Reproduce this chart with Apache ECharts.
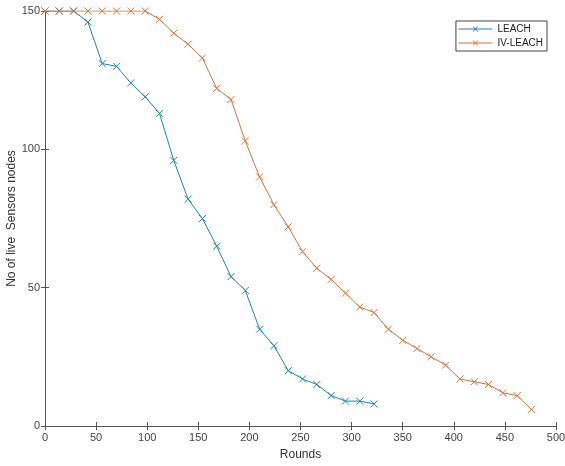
<!DOCTYPE html>
<html><head><meta charset="utf-8">
<script src="https://cdn.jsdelivr.net/npm/echarts@6/dist/echarts.min.js"></script>
<style>html,body{margin:0;padding:0;background:#fff}#c{width:565px;height:466px}</style>
</head><body><div id="c"></div>
<script>
const leachRounds = [0,14,28,42,56,70,84,98,112,126,140,154,168,182,196,210,224,238,252,266,280,294,308,322];
const leachAlive  = [150,150,150,146,131,130,124,119,113,96,82,75,65,54,49,35,29,20,17,15,11,9,9,8];
const ivRounds = [0,14,28,42,56,70,84,98,112,126,140,154,168,182,196,210,224,238,252,266,280,294,308,322,336,350,364,378,392,406,420,434,448,462,476];
const ivAlive  = [150,150,150,150,150,150,150,150,147,142,138,133,122,118,103,90,80,72,63,57,53,48,43,41,35,31,28,25,22,17,16,15,12,11,6];
const xTicks = [0,50,100,150,200,250,300,350,400,450,500];
const yTicks = [0,50,100,150];

const blue = '#2383aa', orange = '#cf743f';
const cross = 'path://M0,0L10,10M10,0L0,10';
const font = 'Liberation Sans, Arial, sans-serif';
const chart = echarts.init(document.getElementById('c'));
function mk(name, xs, ys, c){
  return {name, type:'line', data: xs.map((x,i)=>[x, ys[i]]), xAxisIndex:0, yAxisIndex:0,
    symbol: cross, symbolSize: 7, showSymbol:true,
    lineStyle:{color:c, width:1}, itemStyle:{color:'rgba(0,0,0,0)', borderColor:c, borderWidth:1},
    emphasis:{disabled:true}, animation:false, z:3};
}
const axLine = {show:true, lineStyle:{color:'#555', width:1}};
chart.setOption({
  animation:false,
  textStyle:{fontFamily:font},
  grid:{left:45, top:11, right:9, bottom:40, show:false, containLabel:false, outerBoundsMode:'none'},
  legend:{top:21, right:18, orient:'vertical', itemWidth:34, itemHeight:6, itemGap:4,
    borderColor:'#444', borderWidth:1, padding:[3,4,3,2], backgroundColor:'#fff',
    itemStyle:{borderWidth:1, color:'rgba(0,0,0,0)'}, lineStyle:{width:1},
    textStyle:{fontSize:10, color:'#222', fontFamily:font},
    data:['LEACH','IV-LEACH']},
  xAxis:[
    {type:'value', min:0, max:500, interval:50, position:'bottom', name:'Rounds', nameLocation:'middle', nameGap:23, nameMoveOverlap:false,
     nameTextStyle:{fontSize:12, color:'#333'}, axisLine:axLine, axisTick:{inside:true, length:4, lineStyle:{color:'#555'}},
     axisLabel:{fontSize:11, color:'#444', margin:6}, splitLine:{show:false}},
    {type:'value', min:0, max:500, interval:50, position:'top', axisLine:axLine,
     axisTick:{inside:true, length:4, lineStyle:{color:'#555'}}, axisLabel:{show:false}, splitLine:{show:false}}
  ],
  yAxis:[
    {type:'value', min:0, max:150, interval:50, position:'left', name:'No of live  Sensors nodes', nameLocation:'middle', nameGap:27, nameMoveOverlap:false,
     nameTextStyle:{fontSize:12, color:'#333'}, axisLine:axLine, axisTick:{inside:true, length:4, lineStyle:{color:'#555'}},
     axisLabel:{fontSize:11, color:'#444', margin:5}, splitLine:{show:false}},
    {type:'value', min:0, max:150, interval:50, position:'right', axisLine:axLine,
     axisTick:{inside:true, length:4, lineStyle:{color:'#555'}}, axisLabel:{show:false}, splitLine:{show:false}}
  ],
  series:[mk('LEACH', leachRounds, leachAlive, blue), mk('IV-LEACH', ivRounds, ivAlive, orange)]
});
</script></body></html>
